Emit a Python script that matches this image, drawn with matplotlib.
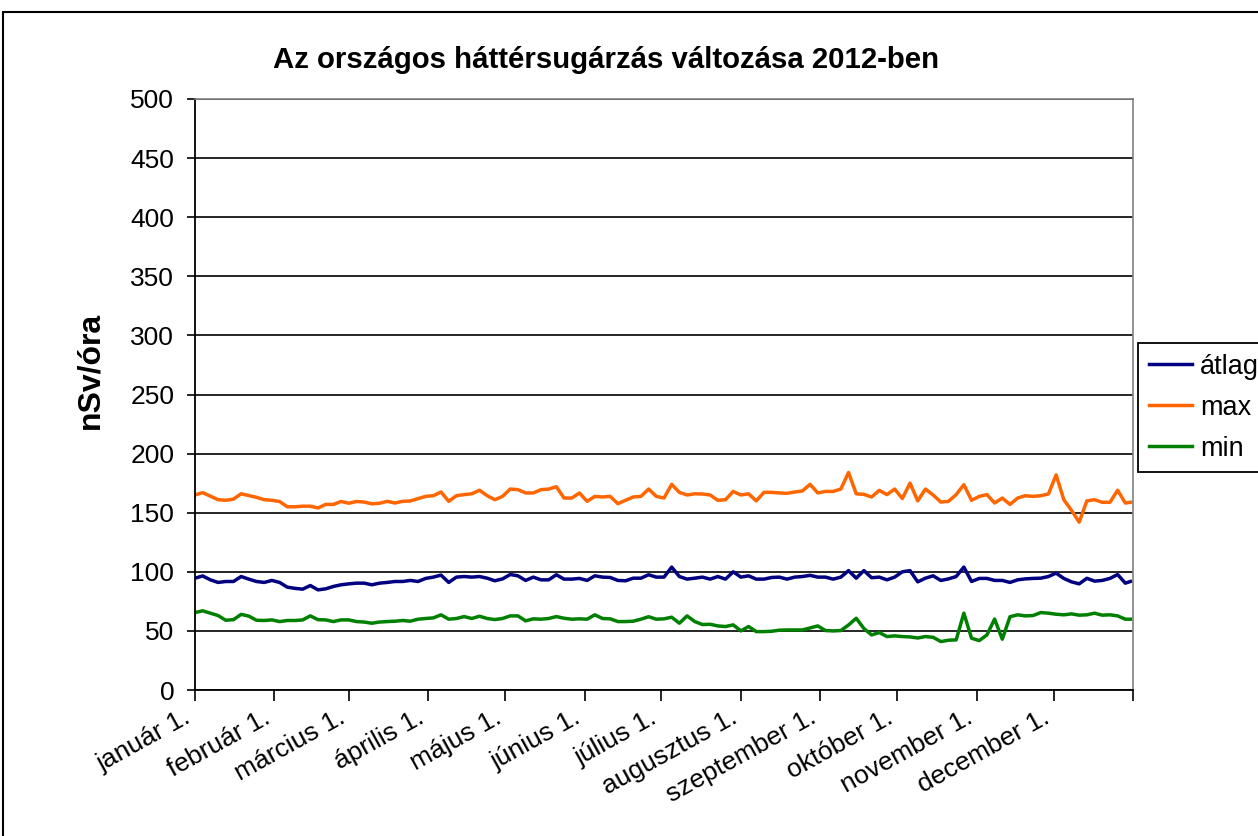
import matplotlib
matplotlib.use('Agg')
import matplotlib.pyplot as plt
import matplotlib.patches as patches
import pandas as pd

plt.rcParams['font.family'] = ['Liberation Sans', 'DejaVu Sans']

# days since 2012-01-01 (every third day, plus Dec 31)
sample_days = list(range(0, 366, 3)) + [365]

# nSv/óra values
atlag = [94.6, 96.5, 93.2, 91, 91.8, 91.8, 96, 93.8, 91.8, 91,
         92.7, 91, 87, 86, 85.3, 88.4, 84.7, 85.6, 87.6, 89,
         89.8, 90.4, 90.4, 89, 90.4, 91, 91.8, 91.8, 92.7, 91.8,
         94.4, 95.5, 97.2, 91, 95.5, 96, 95.5, 96, 94.6, 92.4,
         94, 97.7, 96.6, 92.7, 95.5, 93.2, 93.2, 97.5, 93.8, 93.8,
         94.4, 92.7, 96.6, 95.5, 95.2, 92.7, 92.4, 94.6, 94.6, 97.5,
         95.5, 95.5, 104, 96, 93.8, 94.6, 95.5, 93.8, 96, 93.8,
         100, 95.5, 96.6, 93.8, 93.8, 95.2, 95.5, 93.8, 95.5, 96,
         97, 95.5, 95.5, 93.8, 95.5, 101, 94.6, 101, 95, 95.5,
         93.2, 95.5, 100, 101, 91.5, 94.6, 96.6, 92.7, 94, 96,
         104, 91.8, 94.4, 94.4, 92.7, 92.7, 91, 93.2, 94, 94.4,
         94.6, 96, 98.9, 94.4, 91.5, 89.8, 94.5, 92.1, 92.7, 94.4,
         97.7, 90.4, 91.8]

maxv = [165, 167, 164, 161, 160.5, 161.5, 166, 164.5, 163, 161,
        160.5, 159.5, 155, 155, 155.5, 155.5, 154, 157, 157, 159.5,
        158, 159.5, 159, 157.5, 158, 159.6, 158.2, 159.6, 159.9, 161.9,
        163.8, 164.4, 167.5, 159.6, 164.4, 165.3, 166, 169, 164.4, 161,
        163.8, 170, 169.5, 166.7, 166.7, 169.5, 170, 172, 162.4, 162.4,
        166.7, 159.6, 163.8, 163.3, 163.8, 157.6, 160.5, 163.3, 163.8, 170,
        163.8, 162.4, 174, 167.2, 165, 166, 165.8, 165, 160.5, 161,
        168, 165, 166, 160, 167.2, 167.2, 166.7, 166.4, 167.5, 168.4,
        174, 166.7, 168, 168, 170, 184, 166, 165.5, 163.3, 168.9,
        165.3, 170, 162, 175, 160, 170, 165, 159, 159.6, 165.3,
        173.7, 160.5, 163.8, 165.3, 158.2, 162.4, 157, 162.4, 164.4, 163.8,
        164.4, 165.8, 182, 161, 152, 142, 160, 161, 158.8, 158.8,
        169, 158.2, 158.8]

minv = [65.5, 67, 65, 63, 59, 59.5, 64, 62.5, 59, 58.8,
        59.3, 57.9, 58.8, 58.8, 59.3, 62.7, 59.5, 59.3, 57.9, 59.3,
        59.3, 57.9, 57.5, 56.5, 57.5, 57.9, 58.2, 58.8, 58.2, 59.9,
        60.5, 61, 63.6, 59.9, 60.5, 62.1, 60.5, 62.4, 60.5, 59.6,
        60.5, 62.7, 62.7, 58.5, 60.2, 59.9, 60.5, 62.1, 60.7, 59.9,
        60.2, 59.9, 63.6, 60.5, 60.2, 57.9, 57.9, 58.2, 59.9, 62,
        59.9, 60.2, 61.6, 56.5, 62.7, 57.9, 55.4, 55.6, 54.2, 53.7,
        55.1, 50, 53.7, 49.4, 49.4, 49.7, 50.6, 50.8, 50.8, 50.8,
        52.5, 54.2, 50.3, 50, 50.3, 55, 60.7, 52, 46.6, 48.6,
        45.2, 45.8, 45.2, 44.9, 44, 45.2, 44.6, 41, 42.1, 42.4,
        65, 43.8, 41.8, 46.6, 60, 43, 62, 63.6, 62.7, 63,
        65.5, 65, 64.1, 63.6, 64.4, 63.3, 63.6, 65, 63.3, 63.6,
        62.7, 59.9, 59.9]

month_labels = ['január 1.', 'február 1.', 'március 1.', 'április 1.',
                'május 1.', 'június 1.', 'július 1.', 'augusztus 1.',
                'szeptember 1.', 'október 1.', 'november 1.', 'december 1.']

dates = pd.Timestamp('2012-01-01') + pd.to_timedelta(sample_days, unit='D')
month_ticks = pd.date_range('2012-01-01', '2013-01-01', freq='MS')

fig = plt.figure(figsize=(12.58, 8.36), dpi=100)
ax = fig.add_axes([195 / 1258, 1 - 690 / 836, (1133 - 195) / 1258, (690 - 99) / 836])

ax.plot(dates, atlag, color='#000080', lw=2.5, label='átlag')
ax.plot(dates, maxv, color='#FF6600', lw=2.5, label='max')
ax.plot(dates, minv, color='#008000', lw=2.5, label='min')

ax.set_xlim(pd.Timestamp('2012-01-01'), pd.Timestamp('2013-01-01'))
ax.set_ylim(0, 500)
ax.set_yticks(range(0, 501, 50))
ax.yaxis.grid(True, color='black', lw=1.2)
ax.set_axisbelow(True)

ax.set_xticks(month_ticks)
ax.set_xticklabels(month_labels + [''], rotation=29, ha='right', va='top')
ax.tick_params(axis='x', length=8, width=1.2, labelsize=19, pad=3)
ax.tick_params(axis='y', length=6, width=1.2, labelsize=19, pad=9)

for side in ['left', 'bottom']:
    ax.spines[side].set_color('black')
    ax.spines[side].set_linewidth(1.3)
for side in ['top', 'right']:
    ax.spines[side].set_color('#808080')
    ax.spines[side].set_linewidth(1.2)

fig.text(606 / 1258, 1 - 60 / 836, 'Az országos háttérsugárzás változása 2012-ben',
         fontsize=21.2, fontweight='bold', ha='center', va='center')
fig.text(90 / 1258, 1 - 370 / 836, 'nSv/óra', fontsize=23, fontweight='bold',
         rotation=90, ha='center', va='center')

leg = ax.legend(loc='upper left', bbox_to_anchor=(1138 / 1258, 1 - 343 / 836),
                bbox_transform=fig.transFigure, fontsize=19.5, frameon=True,
                fancybox=False, edgecolor='black', framealpha=1,
                handlelength=1.6, handletextpad=0.3, borderaxespad=0,
                labelspacing=0.55, borderpad=0.4)
leg.get_frame().set_linewidth(1.3)

# outer chart border
fig.patches.append(patches.Rectangle((3 / 1258, -0.1), 1.2, 1 - 12 / 836 + 0.1,
                                     transform=fig.transFigure, fill=False,
                                     lw=1.5, ec='black'))

fig.savefig('out.png', dpi=100, facecolor='white')
